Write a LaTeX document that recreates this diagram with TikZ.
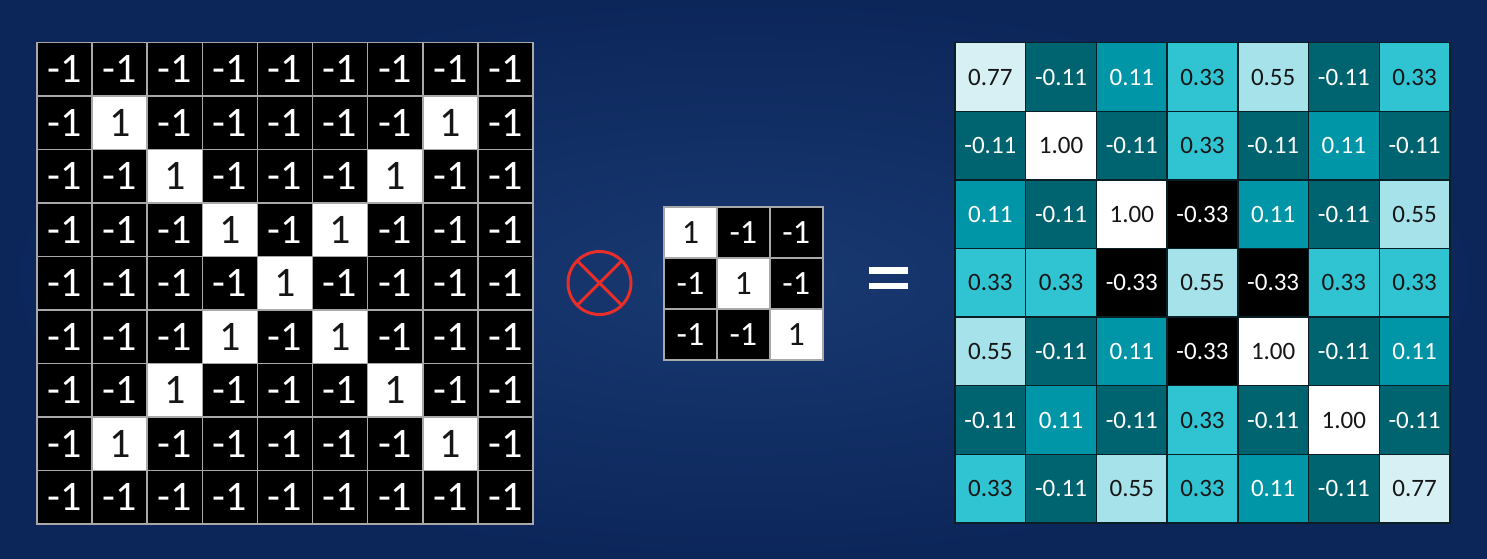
\documentclass[tikz,border=0pt]{standalone}
\usepackage{fontspec}
\setmainfont{Carlito}
\usepackage{xcolor}
\usepackage{tikz}
\usetikzlibrary{calc}

\definecolor{slidebg}{RGB}{12,38,90}
\definecolor{slidemid}{RGB}{24,57,113}
\definecolor{gridgray}{RGB}{168,168,168}
\definecolor{convred}{RGB}{232,46,40}
\definecolor{inkdark}{RGB}{22,22,22}
\definecolor{edgedark}{RGB}{10,30,38}
\definecolor{tealA}{RGB}{214,240,244}
\definecolor{tealB}{RGB}{166,226,234}
\definecolor{tealC}{RGB}{48,196,211}
\definecolor{tealD}{RGB}{0,150,167}
\definecolor{tealE}{RGB}{0,100,112}

\tikzset{
    pix/.style={inner sep=0pt, outer sep=0pt},
    incell/.style={pix, draw=gridgray, line width=1.6pt, minimum width=55.1pt, minimum height=53.5pt, font=\fontsize{42}{42}\selectfont},
    kcell/.style={pix, draw=gridgray, line width=1.6pt, minimum width=52.9pt, minimum height=51pt, font=\fontsize{34}{34}\selectfont},
    outcell/.style={pix, draw=edgedark, line width=1.4pt, minimum width=70.7pt, minimum height=68.6pt, font=\fontsize{25}{25}\selectfont},
    oncell/.style={fill=white, text=inkdark},
    offcell/.style={fill=black, text=white},
    val 0.77/.style={fill=tealA, text=inkdark},
    val 0.55/.style={fill=tealB, text=inkdark},
    val 0.33/.style={fill=tealC, text=inkdark},
    val 0.11/.style={fill=tealD, text=white},
    val -0.11/.style={fill=tealE, text=white},
    val 1.00/.style={fill=white, text=inkdark},
    val -0.33/.style={fill=black, text=white}
}

\begin{document}
\begin{tikzpicture}[x=1pt, y=-1pt]
    \useasboundingbox (0,0) rectangle (1487,558);
    \shade[inner color=slidemid, outer color=slidebg] (0,0) rectangle (1487,558);
    \foreach \r in {1,...,9}
        \foreach \c in {1,...,9} {
            \pgfmathtruncatemacro\hit{((\r==\c || \r+\c==10) && \r>1 && \r<9) ? 1 : 0}
            \ifnum\hit=1
                \node[incell, oncell] (in-\r-\c) at ({37+55.1*(\c-0.5)},{42.3+53.5*(\r-0.5)}) {1};
            \else
                \node[incell, offcell] (in-\r-\c) at ({37+55.1*(\c-0.5)},{42.3+53.5*(\r-0.5)}) {-1};
            \fi
        }
    \node[circle, pix, draw=convred, line width=3pt, minimum size=63pt] (conv) at (599.5,283) {};
    \draw[convred, line width=3pt] (conv.45) -- (conv.225) (conv.135) -- (conv.-45);
    \foreach \r in {1,2,3}
        \foreach \c in {1,2,3} {
            \ifnum\r=\c
                \node[kcell, oncell] (kr-\r-\c) at ({664+52.9*(\c-0.5)},{207+51*(\r-0.5)}) {1};
            \else
                \node[kcell, offcell] (kr-\r-\c) at ({664+52.9*(\c-0.5)},{207+51*(\r-0.5)}) {-1};
            \fi
        }
    \fill[white] (869,267) rectangle (908,273.5);
    \fill[white] (869,282.5) rectangle (908,289);
    \foreach \row [count=\r] in {
        {0.77,-0.11,0.11,0.33,0.55,-0.11,0.33},
        {-0.11,1.00,-0.11,0.33,-0.11,0.11,-0.11},
        {0.11,-0.11,1.00,-0.33,0.11,-0.11,0.55},
        {0.33,0.33,-0.33,0.55,-0.33,0.33,0.33},
        {0.55,-0.11,0.11,-0.33,1.00,-0.11,0.11},
        {-0.11,0.11,-0.11,0.33,-0.11,1.00,-0.11},
        {0.33,-0.11,0.55,0.33,0.11,-0.11,0.77}}
        \foreach \v [count=\c] in \row
            \node[outcell, val \v] (out-\r-\c) at ({955+70.7*(\c-0.5)},{42.7+68.6*(\r-0.5)}) {\v};
\end{tikzpicture}
\end{document}
